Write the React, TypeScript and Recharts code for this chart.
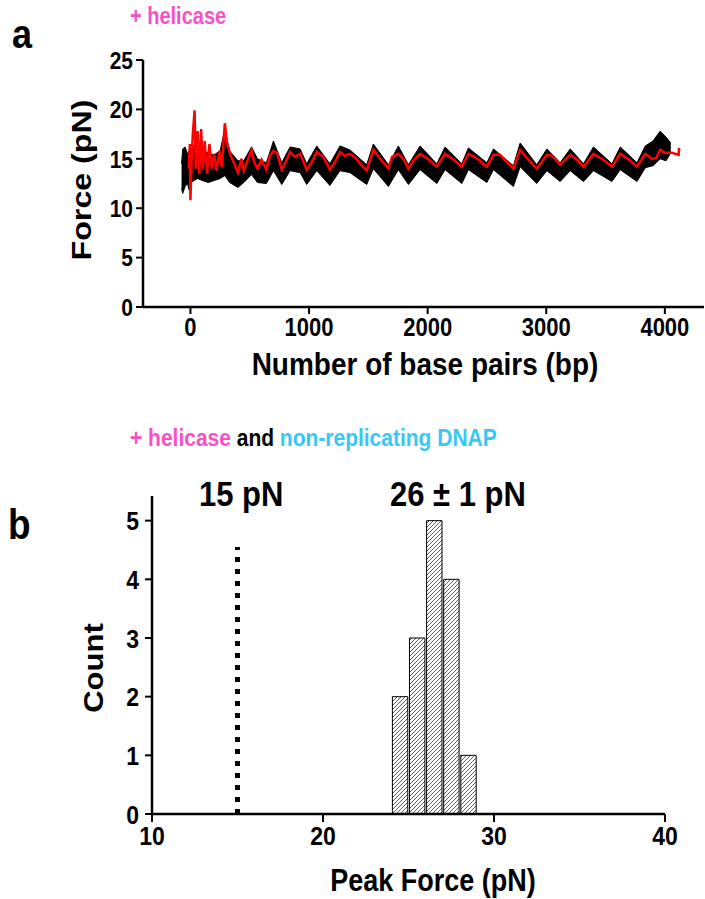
import { ComposedChart, Line, Area, Bar, XAxis, YAxis, ReferenceLine } from 'recharts';

const FONT = '"Liberation Sans", Arial, Helvetica, sans-serif';
const PINK = '#f94fc6';
const BLUE = '#36c8f7';
const SY = 1.15; // the figure's lettering is a little taller than it is wide

// panel a: smoothed trace (red)
const redBp = [-15, -5, 0, 10, 20, 35, 45, 60, 75, 90, 105, 120, 140, 160, 180, 200, 220, 245, 265, 290, 310, 340, 370, 400, 430, 450, 480, 515, 540, 565, 600, 640, 670, 700, 730, 770, 800, 840, 880, 925, 980, 1020, 1065, 1120, 1176, 1220, 1261, 1300, 1345, 1400, 1430, 1486, 1542, 1600, 1669, 1700, 1753, 1800, 1838, 1880, 1936, 2000, 2040, 2077, 2147, 2220, 2288, 2344, 2380, 2440, 2499, 2555, 2610, 2723, 2780, 2850, 2920, 3005, 3050, 3117, 3202, 3260, 3314, 3398, 3480, 3554, 3624, 3700, 3765, 3835, 3890, 3925, 3961, 4000, 4060, 4116, 4120];
const redForce = [14.0, 16.5, 10.8, 15.0, 17.5, 19.9, 14.0, 17.8, 13.5, 18.0, 14.0, 16.8, 13.5, 16.5, 14.0, 15.5, 13.8, 15.8, 14.2, 18.6, 16.5, 15.3, 14.5, 13.6, 15.0, 13.8, 14.8, 15.9, 14.6, 14.0, 14.9, 13.9, 15.3, 15.8, 15.6, 13.9, 14.6, 15.7, 15.2, 15.5, 13.9, 14.6, 15.7, 15.2, 13.9, 14.7, 15.7, 15.3, 15.5, 15.0, 14.5, 13.8, 15.9, 15.0, 14.0, 15.2, 15.5, 14.9, 14.0, 14.8, 15.5, 15.0, 14.6, 14.2, 15.5, 14.9, 14.2, 15.5, 15.3, 14.8, 14.2, 15.4, 15.4, 14.0, 15.9, 14.9, 14.0, 15.4, 15.3, 14.4, 15.4, 14.9, 14.2, 15.5, 14.9, 14.2, 15.5, 14.9, 14.2, 15.5, 15.0, 15.05, 15.9, 15.6, 15.6, 15.4, 16.1];

// panel a: raw trace (black), drawn as its min/max envelope
const blackBp = [-75, -65, -45, -25, -10, 5, 30, 60, 100, 150, 200, 250, 290, 330, 400, 450, 515, 565, 640, 700, 770, 840, 925, 980, 1065, 1176, 1261, 1345, 1486, 1542, 1669, 1753, 1838, 1936, 2077, 2147, 2288, 2344, 2499, 2555, 2723, 2780, 2920, 3005, 3117, 3202, 3314, 3398, 3554, 3624, 3765, 3835, 3900, 3960, 4010, 4050];
const blackLo = [12.0, 11.5, 12.2, 12.5, 11.8, 12.6, 12.8, 13.0, 12.8, 12.6, 12.8, 13.0, 13.3, 12.6, 12.1, 12.6, 13.4, 12.6, 12.5, 13.8, 12.4, 13.8, 13.6, 12.4, 13.8, 12.3, 13.8, 13.6, 12.4, 14.0, 12.2, 13.9, 12.4, 13.9, 12.5, 13.9, 12.5, 13.9, 12.6, 13.9, 12.2, 14.2, 12.5, 13.8, 12.7, 13.8, 12.7, 13.8, 12.7, 13.9, 12.7, 14.1, 14.3, 15.0, 14.8, 15.6];
const blackHi = [14.5, 16.0, 16.2, 15.5, 15.8, 16.0, 16.4, 16.2, 15.8, 15.6, 15.4, 15.8, 18.0, 15.8, 14.8, 14.8, 16.2, 15.0, 14.6, 16.8, 14.6, 16.2, 16.0, 14.5, 16.3, 14.5, 16.3, 15.9, 14.4, 16.5, 14.4, 16.3, 14.4, 16.3, 14.5, 16.2, 14.5, 16.1, 14.6, 16.0, 14.3, 16.6, 14.4, 16.0, 14.6, 16.0, 14.5, 16.2, 14.5, 16.2, 14.6, 16.3, 16.8, 17.8, 17.2, 16.6];

const forceTicks = [0, 5, 10, 15, 20, 25];
const bpTicks = [0, 1000, 2000, 3000, 4000];

// panel b: histogram of peak force
const binCenters = [24.5, 25.5, 26.5, 27.5, 28.5];
const binCounts = [2, 3, 5, 4, 1];
const countTicks = [0, 1, 2, 3, 4, 5];
const peakTicks = [10, 20, 30, 40];
const stallForce = 15;
const stallLineTop = 4.55;

const redData = redBp.map((bp, i) => ({ bp, f: redForce[i] }));
const blackData = blackBp.map((bp, i) => ({ bp, range: [blackLo[i], blackHi[i]] }));
const histData = binCenters.map((x, i) => ({ x, count: binCounts[i] }));

const axisLine = { stroke: '#000', strokeWidth: 2.5 };
const tickLine = { stroke: '#000', strokeWidth: 2 };

// tall bold text: x,y is the anchor point on the baseline
function T({ x, y, size, anchor = 'start', rot = false, fill = '#000', children }: any) {
  const tr = `translate(${x},${y}) scale(1,${SY})${rot ? ' rotate(-90)' : ''}`;
  return (
    <text transform={tr} fontSize={size} fill={fill} textAnchor={anchor}
      fontFamily={FONT} fontWeight="bold">{children}</text>
  );
}

const makeTick = (size: number, side: 'x' | 'y') => (props: any) => {
  const { x, y, payload } = props;
  const tr = `translate(${x},${y}) scale(1,${SY})`;
  return (
    <text transform={tr} fontSize={size} fill="#000" fontFamily={FONT} fontWeight="bold"
      textAnchor={side === 'x' ? 'middle' : 'end'} dy={side === 'x' ? '0.72em' : '0.36em'}>
      {payload.value}
    </text>
  );
};

function PanelA() {
  return (
    <ComposedChart width={705} height={400} margin={{ top: 60, right: 1, left: 83, bottom: 53 }}>
      <XAxis type="number" dataKey="bp" domain={[-400, 4330]} ticks={bpTicks} allowDataOverflow
        height={40} axisLine={axisLine} tickLine={tickLine} tickSize={7} tickMargin={4} tick={makeTick(22, 'x')} />
      <YAxis type="number" domain={[0, 25]} ticks={forceTicks} width={60} allowDataOverflow
        axisLine={axisLine} tickLine={tickLine} tickSize={7} tickMargin={3} tick={makeTick(21, 'y')} />
      <Area data={blackData} dataKey="range" type="linear" stroke="#000" strokeWidth={1}
        fill="#000" fillOpacity={1} isAnimationActive={false} />
      <Line data={redData} dataKey="f" type="linear" stroke="#ff0000" strokeWidth={2.5}
        dot={false} isAnimationActive={false} />
    </ComposedChart>
  );
}

function PanelB() {
  return (
    <ComposedChart width={705} height={469} data={histData} barCategoryGap={0}
      margin={{ top: 66, right: 40, left: 92, bottom: 45 }}>
      <defs>
        <pattern id="hatch" patternUnits="userSpaceOnUse" width="4" height="4">
          <rect width="4" height="4" fill="#fff" />
          <path d="M-1,1 l2,-2 M0,4 l4,-4 M3,5 l2,-2" stroke="#333" strokeWidth="0.8" />
        </pattern>
      </defs>
      <XAxis type="number" dataKey="x" domain={[10, 40]} ticks={peakTicks} allowDataOverflow
        height={40} axisLine={axisLine} tickLine={tickLine} tickSize={8} tickMargin={4} tick={makeTick(23, 'x')} />
      <YAxis type="number" domain={[0, 5.42]} ticks={countTicks} width={60} allowDataOverflow
        axisLine={axisLine} tickLine={tickLine} tickSize={7} tickMargin={6} tick={makeTick(23, 'y')} />
      <Bar dataKey="count" fill="url(#hatch)" stroke="#000" strokeWidth={1} barSize={17.1}
        isAnimationActive={false} />
      <ReferenceLine segment={[{ x: stallForce, y: 0 }, { x: stallForce, y: stallLineTop }]}
        stroke="#000" strokeWidth={5} strokeDasharray="5 7" />
    </ComposedChart>
  );
}

export default function App() {
  return (
    <div style={{ position: 'absolute', left: 0, top: 0, width: 705, height: 899, background: '#fff' }}>
      <div style={{ position: 'absolute', left: 0, top: 0 }}>
        <PanelA />
      </div>
      <div style={{ position: 'absolute', left: 0, top: 430 }}>
        <PanelB />
      </div>
      <svg width={705} height={899} style={{ position: 'absolute', left: 0, top: 0, pointerEvents: 'none' }}>
        <T x={12} y={48} size={36}>a</T>
        <T x={130} y={24} size={20} fill={PINK}>+ helicase</T>
        <T x={91} y={180} size={28} anchor="middle" rot>Force (pN)</T>
        <T x={425} y={375} size={28} anchor="middle">Number of base pairs (bp)</T>

        <text transform={`translate(130,446) scale(1,${SY})`} fontSize={21} fontFamily={FONT} fontWeight="bold">
          <tspan fill={PINK}>+ helicase</tspan>
          <tspan fill="#000">{' and '}</tspan>
          <tspan fill={BLUE}>non-replicating DNAP</tspan>
        </text>
        <T x={8} y={539} size={37}>b</T>
        <T x={199} y={506} size={31}>15 pN</T>
        <T x={390} y={506} size={31}>26 ± 1 pN</T>
        <T x={103} y={668} size={27} anchor="middle" rot>Count</T>
        <T x={433} y={891} size={27} anchor="middle">Peak Force (pN)</T>
      </svg>
    </div>
  );
}
